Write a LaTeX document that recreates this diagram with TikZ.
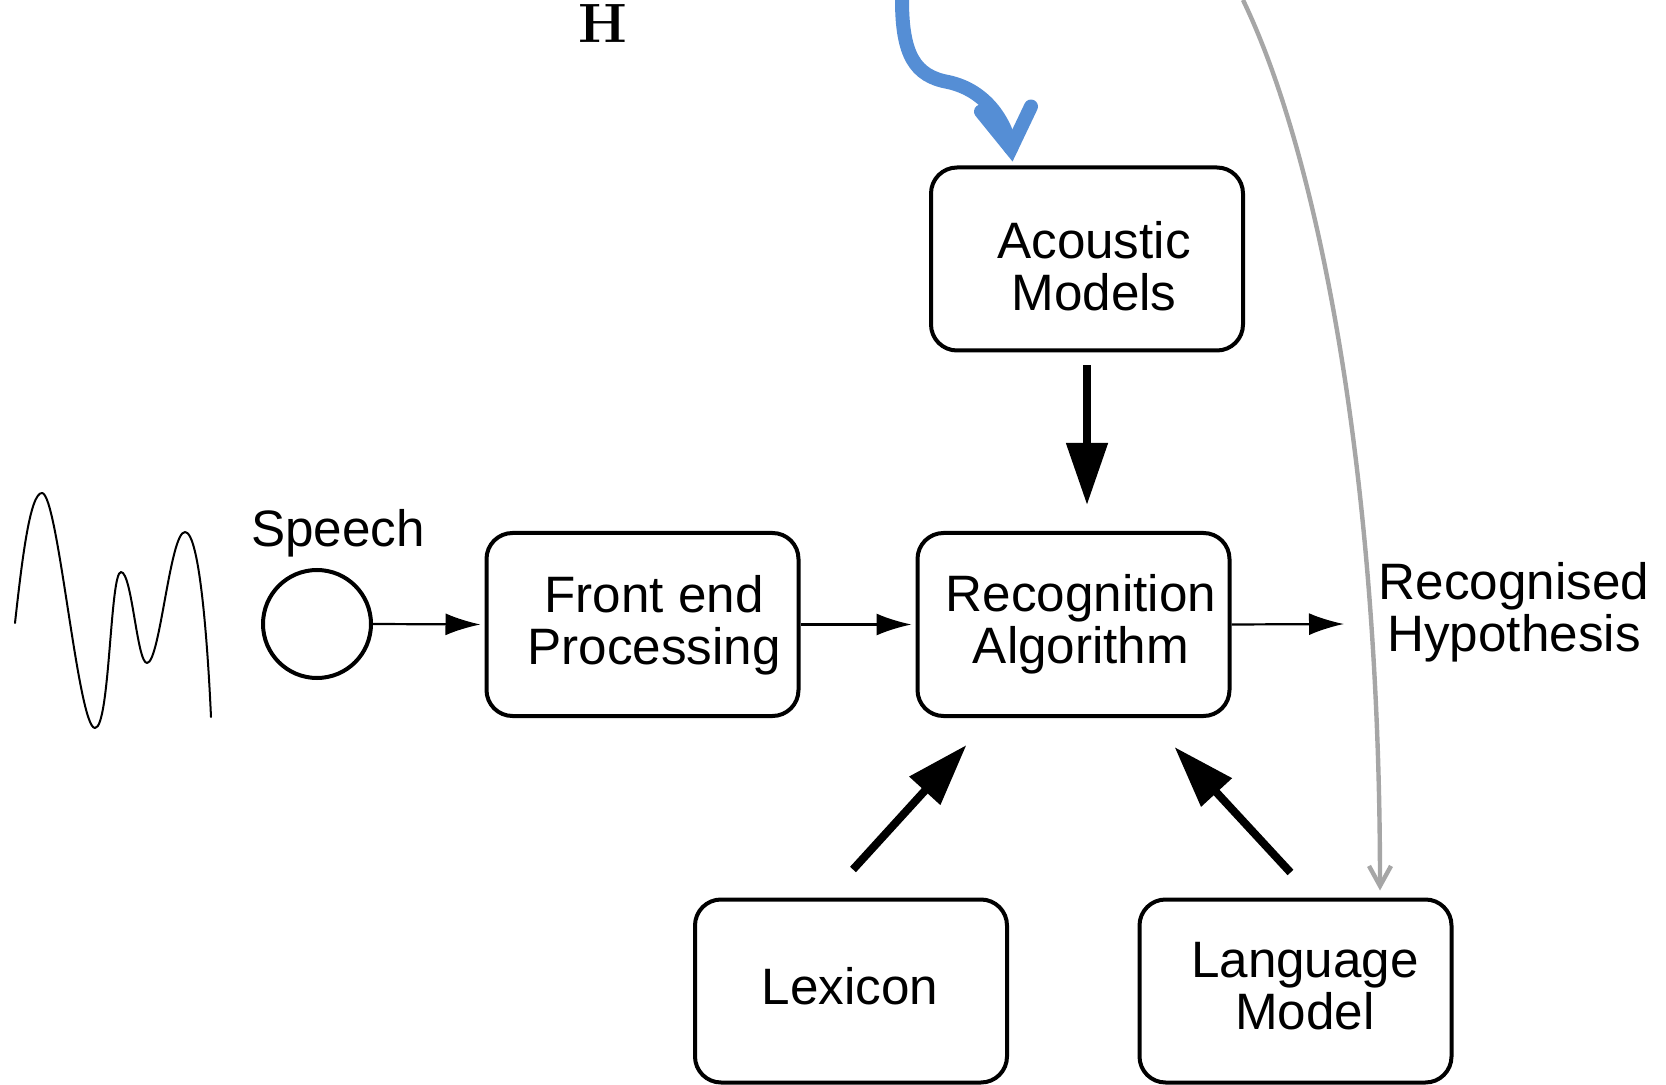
\documentclass[tikz,border=0pt]{standalone}
\usepackage{fontspec}
\setsansfont{Liberation Sans}
\usetikzlibrary{arrows.meta,calc}
\definecolor{curvegray}{RGB}{166,166,166}
\definecolor{flowblue}{RGB}{85,142,213}
\begin{document}
\begin{tikzpicture}[x=0.5pt,y=-0.5pt,
  box/.style={draw, line width=2pt, rounded corners=13pt, minimum width=156pt,
              minimum height=91.5pt, inner sep=0pt},
  lbl/.style={font=\sffamily\fontsize{25.6}{26}\selectfont, align=center, inner sep=0pt},
  smallarrow/.style={line width=1.1pt, -{Latex[length=17.5pt,width=11pt]}},
  bigarrow/.style={line width=4pt, -{Triangle[length=31pt,width=20pt]}},
  wave/.style={line width=1pt, line cap=round, line join=round},
  grayflow/.style={draw=curvegray, line width=2.2pt, -{Straight Barb[length=10pt,width=11pt]}},
  blueflow/.style={draw=flowblue, line width=7pt, line cap=round}
]
\useasboundingbox (0,0) rectangle (1666,1085);

% processing blocks
\node[box] (acoustic) at (1087,259) {};
\node[box] (front) at (642.5,624.5) {};
\node[box] (recog) at (1073.5,624.5) {};
\node[box] (lexicon) at (851,991) {};
\node[box] (langmodel) at (1295.5,991) {};

\node[lbl] (acoustic-t) at (1094,266) {Acoustic\\Models};
\node[lbl] (front-t) at (654,625) {Front end\\Processing};
\node[lbl] (recog-t) at (1081,624.5) {Recognition\\Algorithm};
\node[lbl] (lexicon-t) at (850,986) {Lexicon};
\node[lbl] (langmodel-t) at (1305,986) {Language\\Model};

% input and output
\node[circle, draw, line width=2pt, minimum size=54pt, inner sep=0pt] (speech) at (317,624) {};
\node[lbl] (speech-t) at (338,533) {Speech};
\node[lbl] (hyp) at (1514,612) {Recognised\\Hypothesis};
\node[font=\rmfamily\bfseries\fontsize{27.7}{30}\selectfont, inner sep=0pt] (hmark) at (603,24) {H};

% speech waveform
\draw[wave] (15,623) .. controls (22,560) and (30,493) .. (42,493)
  .. controls (58,493) and (78,728) .. (95,728)
  .. controls (110,728) and (110,572) .. (121,572)
  .. controls (132,572) and (137,663) .. (147,663)
  .. controls (160,663) and (170,532) .. (185,532)
  .. controls (200,532) and (208,650) .. (211,717);

% signal flow
\coordinate (hyp-in) at (1344,624);
\draw[smallarrow, shorten >=2pt] (speech.east) -- (front.west);
\draw[smallarrow, shorten >=2pt] (front.east) -- (recog.west);
\draw[smallarrow] (recog.east) -- (hyp-in);

\draw[bigarrow, shorten <=6.5pt, shorten >=13pt] (acoustic.south) -- (acoustic.south |- recog.north);
\draw[bigarrow] ($(lexicon.north)+(2,-28)$) -- ($(recog.south west)+(51,27)$);
\draw[bigarrow] ($(langmodel.north)+(-5,-25)$) -- ($(recog.south east)+(-57,29)$);

% grey curve into the language model
\coordinate (gtop) at (1243,0);
\draw[grayflow] (gtop) .. controls (1320,160) and (1380,480) .. ($(langmodel.north)+(84.5,-7)$);

% blue curved arrow into the acoustic models
\coordinate (btop) at (902,0);
\coordinate (btip) at ($(acoustic.north west)+(82,-17)$);
\draw[blueflow] (btop) .. controls (902,55) and (915,76) .. (948,82)
  .. controls (985,90) and (1005,120) .. (btip);
\draw[blueflow, line join=miter] ($(btip)+(-30,-37)$) -- (btip) -- ($(btip)+(20,-42)$);
\end{tikzpicture}
\end{document}
